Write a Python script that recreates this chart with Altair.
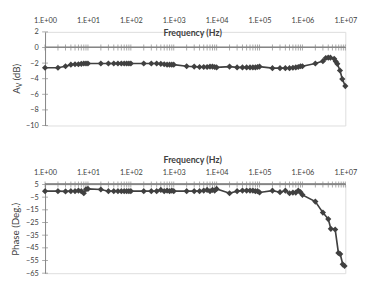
import altair as alt
import pandas as pd

# ---- data ----
freq_top = [1, 2, 3, 4, 5, 6, 7, 8, 9,
            10, 20, 30, 40, 50, 60, 70, 80, 90,
            100, 200, 300, 400, 500, 600, 700, 800, 900,
            1e3, 2e3, 3e3, 4e3, 5e3, 6e3, 7e3, 8e3, 9e3,
            1e4, 2e4, 3e4, 4e4, 5e4, 6e4, 7e4, 8e4, 9e4,
            1e5, 2e5, 3e5, 4e5, 5e5, 6e5, 7e5, 8e5, 9e5,
            1e6, 2e6, 3e6, 3.5e6, 4e6, 4.5e6, 5.5e6, 6e6, 6.5e6, 7.5e6, 8.5e6, 1e7]
av_db = [-2.6, -2.6, -2.4, -2.2, -2.15, -2.15, -2.1, -2.05, -2.05,
         -2.05, -2.05, -2.05, -2.05, -2.05, -2.05, -2.05, -2.05, -2.05,
         -2.05, -2.05, -2.05, -2.05, -2.1, -2.15, -2.2, -2.2, -2.2,
         -2.2, -2.4, -2.45, -2.5, -2.5, -2.5, -2.45, -2.45, -2.5,
         -2.55, -2.45, -2.55, -2.55, -2.55, -2.55, -2.55, -2.55, -2.5,
         -2.45, -2.65, -2.65, -2.65, -2.65, -2.6, -2.55, -2.5, -2.4,
         -2.4, -2.05, -1.75, -1.35, -1.3, -1.3, -1.45, -1.8, -2.1, -2.95, -4.05, -4.95]

freq_bot = [1, 2, 3, 4, 5, 6, 7, 8, 9,
            10, 20, 30, 40, 50, 60, 70, 80, 90,
            100, 200, 300, 400, 500, 600, 700, 800, 900,
            1e3, 2e3, 3e3, 4e3, 5e3, 6e3, 7e3, 8e3, 9e3,
            1e4, 2e4, 3e4, 4e4, 5e4, 6e4, 7e4, 8e4, 9e4,
            1e5, 2e5, 3e5, 4e5, 5e5, 6e5, 7e5, 8e5, 9e5,
            1e6, 2e6, 3e6, 4e6, 4.6e6, 5.8e6, 6.9e6, 7.6e6, 8.7e6, 9.6e6]
phase_deg = [-0.3, -0.3, -0.5, -0.3, -0.3, 0.2, -0.3, -1.9, 1.2,
             1.5, 1.0, -0.3, -0.3, -0.3, -0.3, -0.3, -0.3, -0.3,
             -0.3, -0.3, -0.3, -0.3, 0.7, -0.3, 0.2, -0.3, 0.2,
             -0.3, -0.3, -0.3, -0.3, 0.2, 0.7, -0.3, 0.7, 0.2,
             1.5, -1.9, -0.3, 0.2, 0.2, 0.2, 0.2, -0.3, -0.3,
             -1.3, 0.1, -1.1, 0.1, -1.9, -1.4, -1.4, 0.1, -1.1,
             -3.2, -8.5, -17.2, -22.3, -30.0, -30.5, -49.0, -49.9, -58.0, -59.3]

tick_freqs = [1, 2, 3, 4, 5, 6, 7, 8, 9,
              10, 20, 30, 40, 50, 60, 70, 80, 90,
              100, 200, 300, 400, 500, 600, 700, 800, 900,
              1e3, 2e3, 3e3, 4e3, 5e3, 6e3, 7e3, 8e3, 9e3,
              1e4, 2e4, 3e4, 4e4, 5e4, 6e4, 7e4, 8e4, 9e4,
              1e5, 2e5, 3e5, 4e5, 5e5, 6e5, 7e5, 8e5, 9e5,
              1e6, 2e6, 3e6, 4e6, 5e6, 6e6, 7e6, 8e6, 9e6, 1e7]
x_labels = [1, 10, 100, 1e3, 1e4, 1e5, 1e6, 1e7]
av_ticks = [2, 0, -2, -4, -6, -8, -10]
phase_ticks = [5, -5, -15, -25, -35, -45, -55, -65]

# title pieces for "A_V (dB)" (subscript V)
av_title_parts = ["A", "V", "(dB)"]

FONT = "Lato"
DARK = "#404040"
GRAY = "#868686"
W = 308
H_TOP = 96
H_BOT = 91

df_top = pd.DataFrame({"f": freq_top, "v": av_db})
df_bot = pd.DataFrame({"f": freq_bot, "v": phase_deg})
df_ticks = pd.DataFrame({"f": tick_freqs})

xscale = alt.Scale(type="log", domain=[1, 1e7], nice=False)


def xaxis(title_y):
    return alt.Axis(orient="top", values=x_labels,
                    labelExpr="'1.E+0' + round(log(datum.value) / LN10)",
                    domain=False, ticks=False, tickSize=0, grid=False,
                    labelFont=FONT, labelFontSize=7.5, labelColor=DARK,
                    labelPadding=8, labelFlush=False,
                    title="Frequency (Hz)", titleFont=FONT, titleFontSize=9,
                    titleFontWeight="bold", titleColor=DARK,
                    titleX=151, titleY=title_y, titleAlign="center",
                    titleBaseline="middle")


def yaxis(title, values):
    kw = dict(values=values, domain=True, domainColor=GRAY,
              ticks=False, grid=False,
              labelFont=FONT, labelFontSize=7.5, labelColor=DARK,
              labelPadding=7, labelOverlap=False)
    if title:
        kw.update(title=title, titleFont=FONT, titleFontSize=10,
                  titleFontWeight="normal", titleColor=DARK, titlePadding=5)
    else:
        kw.update(title="")
    return alt.Axis(**kw)


def panel(df, title, domain, values, axis_val, title_y):
    xa = xaxis(title_y)
    ya = yaxis(title, values)
    ys = alt.Scale(domain=domain, nice=False, zero=False)
    df_yt = pd.DataFrame({"v": values})
    line = alt.Chart(df).mark_line(
        color=DARK, strokeWidth=1.7,
        point=alt.OverlayMarkDef(shape="diamond", filled=True, size=40,
                                 color=DARK)
    ).encode(x=alt.X("f:Q", scale=xscale, axis=xa),
             y=alt.Y("v:Q", scale=ys, axis=ya))
    rule = alt.Chart(df).mark_rule(color=GRAY, strokeWidth=1).encode(
        x=alt.XDatum(1, scale=xscale, axis=xa),
        x2=alt.X2Datum(1e7),
        y=alt.YDatum(axis_val, scale=ys, axis=ya))
    xticks = alt.Chart(df_ticks).mark_tick(
        orient="vertical", size=6, thickness=1, color=GRAY
    ).encode(x=alt.X("f:Q", scale=xscale, axis=xa),
             y=alt.YDatum(axis_val, scale=ys, axis=ya))
    yticks = alt.Chart(df_yt).mark_tick(
        orient="horizontal", size=6, thickness=1, color=GRAY
    ).encode(x=alt.XDatum(1, scale=xscale, axis=xa),
             y=alt.Y("v:Q", scale=ys, axis=ya))
    return [rule, xticks, yticks, line]


top_layers = panel(df_top, None, [-10, 2], av_ticks, 0, 0.5)

# rotated y title with subscript, built from text pieces
cx = -26
y0 = H_TOP / 2 + 15.5
t_a = alt.Chart(df_top).mark_text(
    text=av_title_parts[0], angle=270, align="left", baseline="alphabetic",
    font=FONT, fontSize=10, color=DARK
).encode(x=alt.value(cx), y=alt.value(y0))
t_v = alt.Chart(df_top).mark_text(
    text=av_title_parts[1], angle=270, align="left", baseline="alphabetic",
    font=FONT, fontSize=7, color=DARK
).encode(x=alt.value(cx + 2.5), y=alt.value(y0 - 6.6))
t_db = alt.Chart(df_top).mark_text(
    text=av_title_parts[2], angle=270, align="left", baseline="alphabetic",
    font=FONT, fontSize=10, color=DARK
).encode(x=alt.value(cx), y=alt.value(y0 - 6.6 - 4.6 - 2.4))

top = alt.layer(*top_layers, t_a.transform_filter("datum.f == 1"),
                t_v.transform_filter("datum.f == 1"),
                t_db.transform_filter("datum.f == 1")).properties(
    width=W, height=H_TOP)
bot = alt.layer(*panel(df_bot, "Phase (Deg.)", [-65, 5], phase_ticks, 5,
                       -26)).properties(width=W, height=H_BOT)

chart = alt.vconcat(top, bot, spacing=25.5).properties(
    padding={"left": 2, "top": 4, "right": 0, "bottom": 0}
).configure_view(stroke=None).configure(background="white")

chart.save("out.html", embed_options={"renderer": "svg", "actions": False})
